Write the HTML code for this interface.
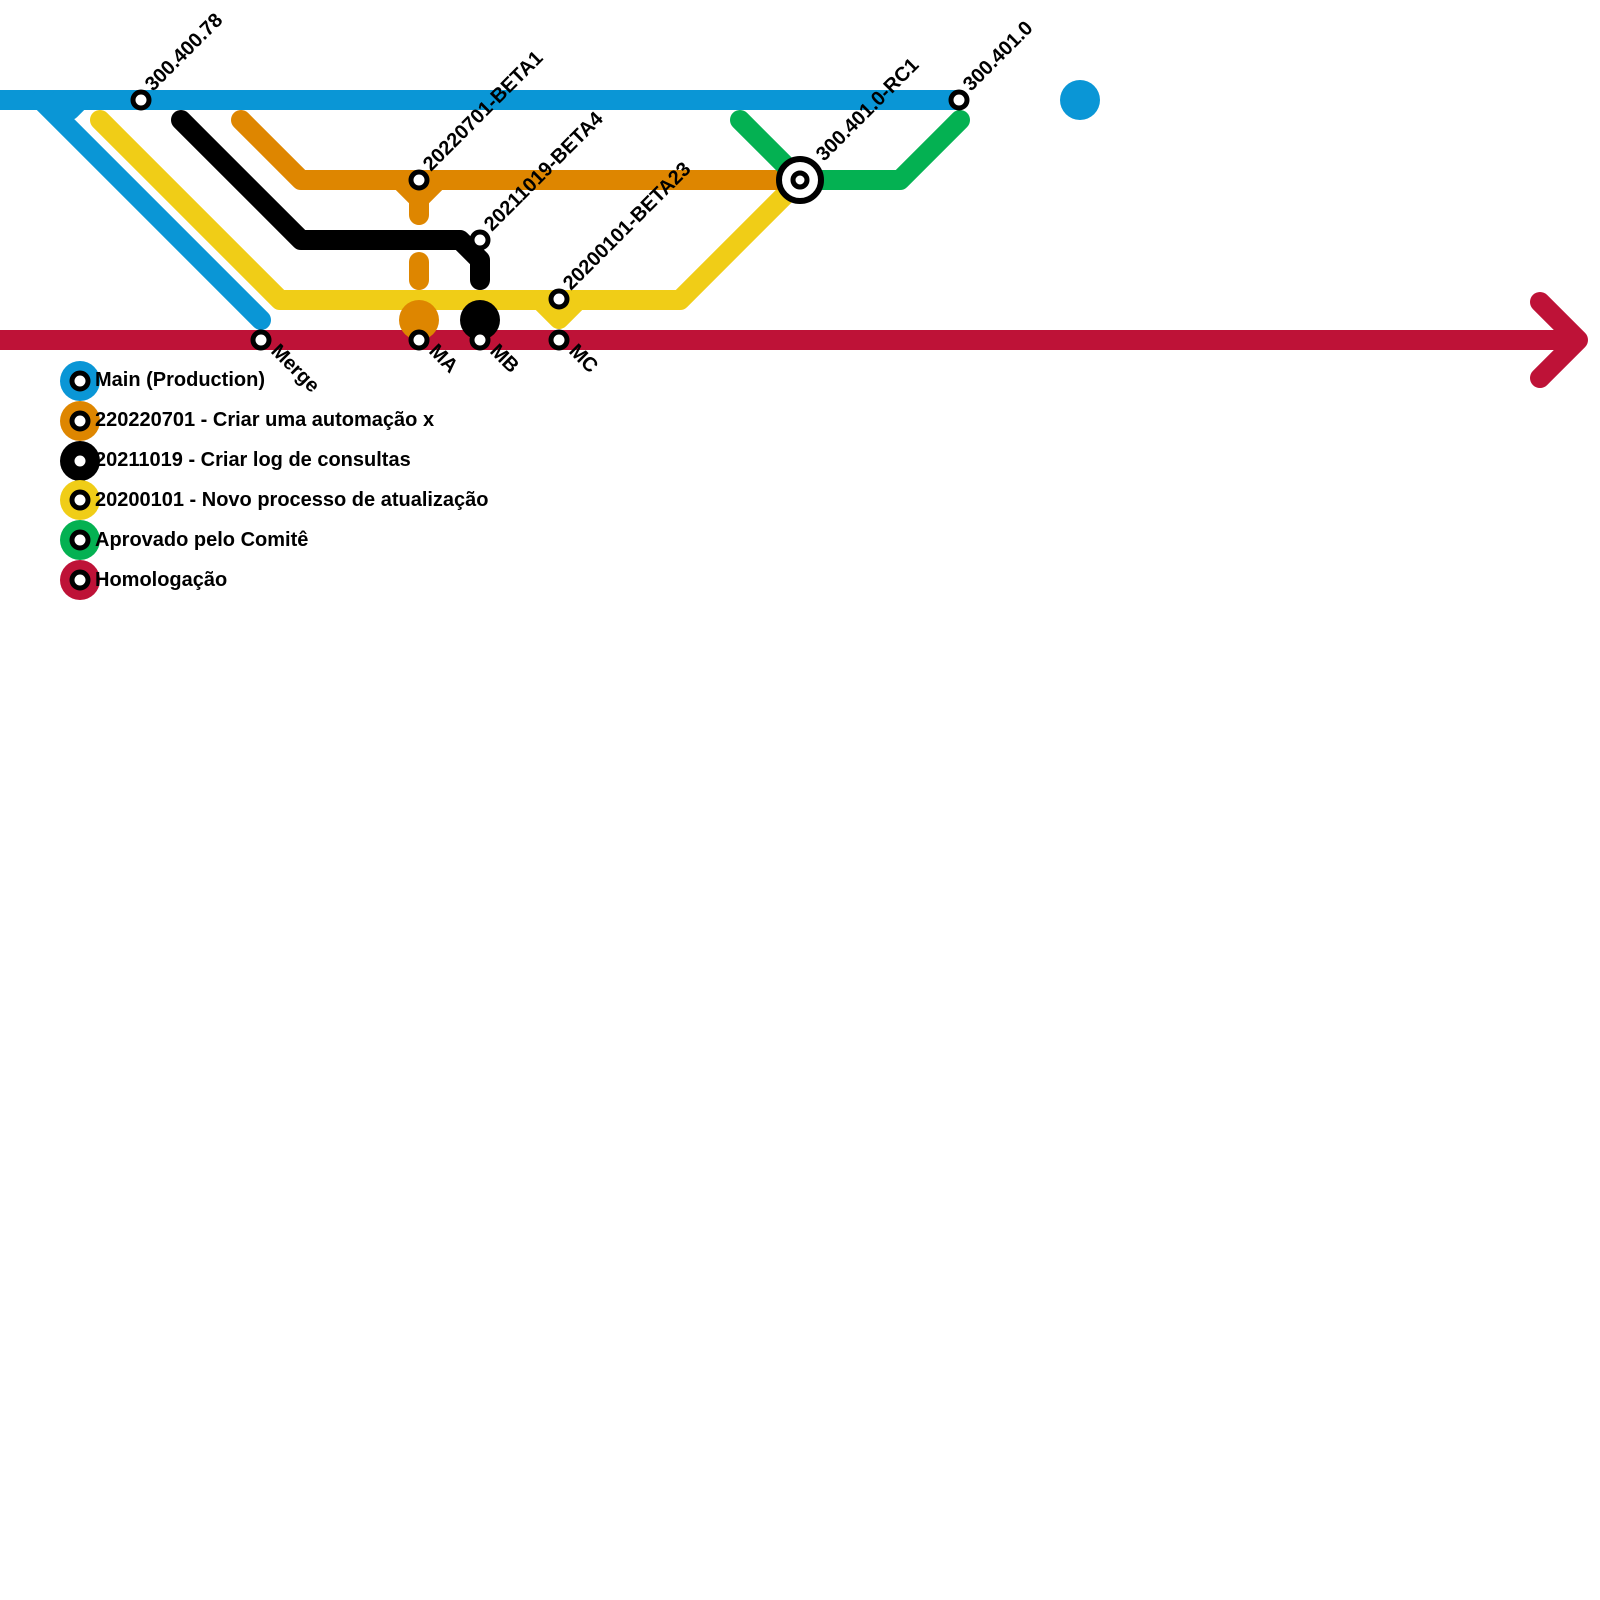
<!DOCTYPE html>
<html><head><meta charset="utf-8"><style>
html,body{margin:0;padding:0;background:#fff;width:1600px;height:1600px;overflow:hidden}
text{font-family:"Liberation Sans",sans-serif;font-weight:bold;font-size:20px;fill:#000}
</style></head><body>
<svg width="1600" height="1600" viewBox="0 0 1600 1600" xmlns="http://www.w3.org/2000/svg">
<g fill="none" stroke-width="20" stroke-linecap="round" stroke-linejoin="round">
<path d="M0,100 H960" stroke="#0a96d6" stroke-linecap="butt"/>
<path d="M41,100 L261,320 M60,100 L70,110 L80,100" stroke="#0a96d6"/>
<path d="M100,120 L280,300 H680 L792,188" stroke="#f0cd17"/>
<path d="M540,300 L559,319 L578,300" stroke="#f0cd17"/>
<path d="M181,120 L301,240 H460 L480,260 V280" stroke="#000"/>
<path d="M241,120 L301,180 H800" stroke="#de8600"/>
<path d="M400,180 L419,199 L438,180 M419,199 V215 M419,262 V280" stroke="#de8600"/>
<path d="M740,120 L800,180 H900 L960,120" stroke="#04b152"/>
<path d="M0,340 H1575" stroke="#be1237" stroke-linecap="butt"/>
<path d="M1540,302 L1578,340 L1540,378" stroke="#be1237"/>
</g>
<circle cx="1080" cy="100" r="20" fill="#0a96d6"/>
<circle cx="419" cy="320" r="20" fill="#de8600"/>
<circle cx="480" cy="320" r="20" fill="#000"/>
<g fill="#fff" stroke="#000" stroke-width="5">
<circle cx="141" cy="100" r="8"/>
<circle cx="959" cy="100" r="8"/>
<circle cx="419" cy="180" r="8"/>
<circle cx="480" cy="240" r="8"/>
<circle cx="559" cy="299" r="8"/>
<circle cx="261" cy="340" r="8"/>
<circle cx="419" cy="340" r="8"/>
<circle cx="480" cy="340" r="8"/>
<circle cx="559" cy="340" r="8"/>
<circle cx="800" cy="180" r="21" stroke-width="6"/>
<circle cx="800" cy="180" r="7" stroke-width="5"/>
</g>
<text transform="translate(153,92) rotate(-45)">300.400.78</text>
<text transform="translate(971,92) rotate(-45)">300.401.0</text>
<text transform="translate(431,172) rotate(-45)">20220701-BETA1</text>
<text transform="translate(492,232) rotate(-45)">20211019-BETA4</text>
<text transform="translate(571,291) rotate(-45)">20200101-BETA23</text>
<text transform="translate(824,162) rotate(-45)">300.401.0-RC1</text>
<text transform="translate(270,352) rotate(45)">Merge</text>
<text transform="translate(428,352) rotate(45)">MA</text>
<text transform="translate(489,352) rotate(45)">MB</text>
<text transform="translate(568,352) rotate(45)">MC</text>
<g>
<circle cx="80" cy="381" r="20" fill="#0a96d6"/>
<circle cx="80" cy="421" r="20" fill="#de8600"/>
<circle cx="80" cy="461" r="20" fill="#000"/>
<circle cx="80" cy="500" r="20" fill="#f0cd17"/>
<circle cx="80" cy="540" r="20" fill="#04b152"/>
<circle cx="80" cy="580" r="20" fill="#be1237"/>
</g>
<g fill="#fff" stroke="#000" stroke-width="5">
<circle cx="80" cy="381" r="8"/><circle cx="80" cy="421" r="8"/><circle cx="80" cy="461" r="8"/>
<circle cx="80" cy="500" r="8"/><circle cx="80" cy="540" r="8"/><circle cx="80" cy="580" r="8"/>
</g>
<text x="95" y="386">Main (Production)</text>
<text x="95" y="426">220220701 - Criar uma automação x</text>
<text x="95" y="466">20211019 - Criar log de consultas</text>
<text x="95" y="506">20200101 - Novo processo de atualização</text>
<text x="95" y="546">Aprovado pelo Comitê</text>
<text x="95" y="586">Homologação</text>
</svg>
</body></html>
